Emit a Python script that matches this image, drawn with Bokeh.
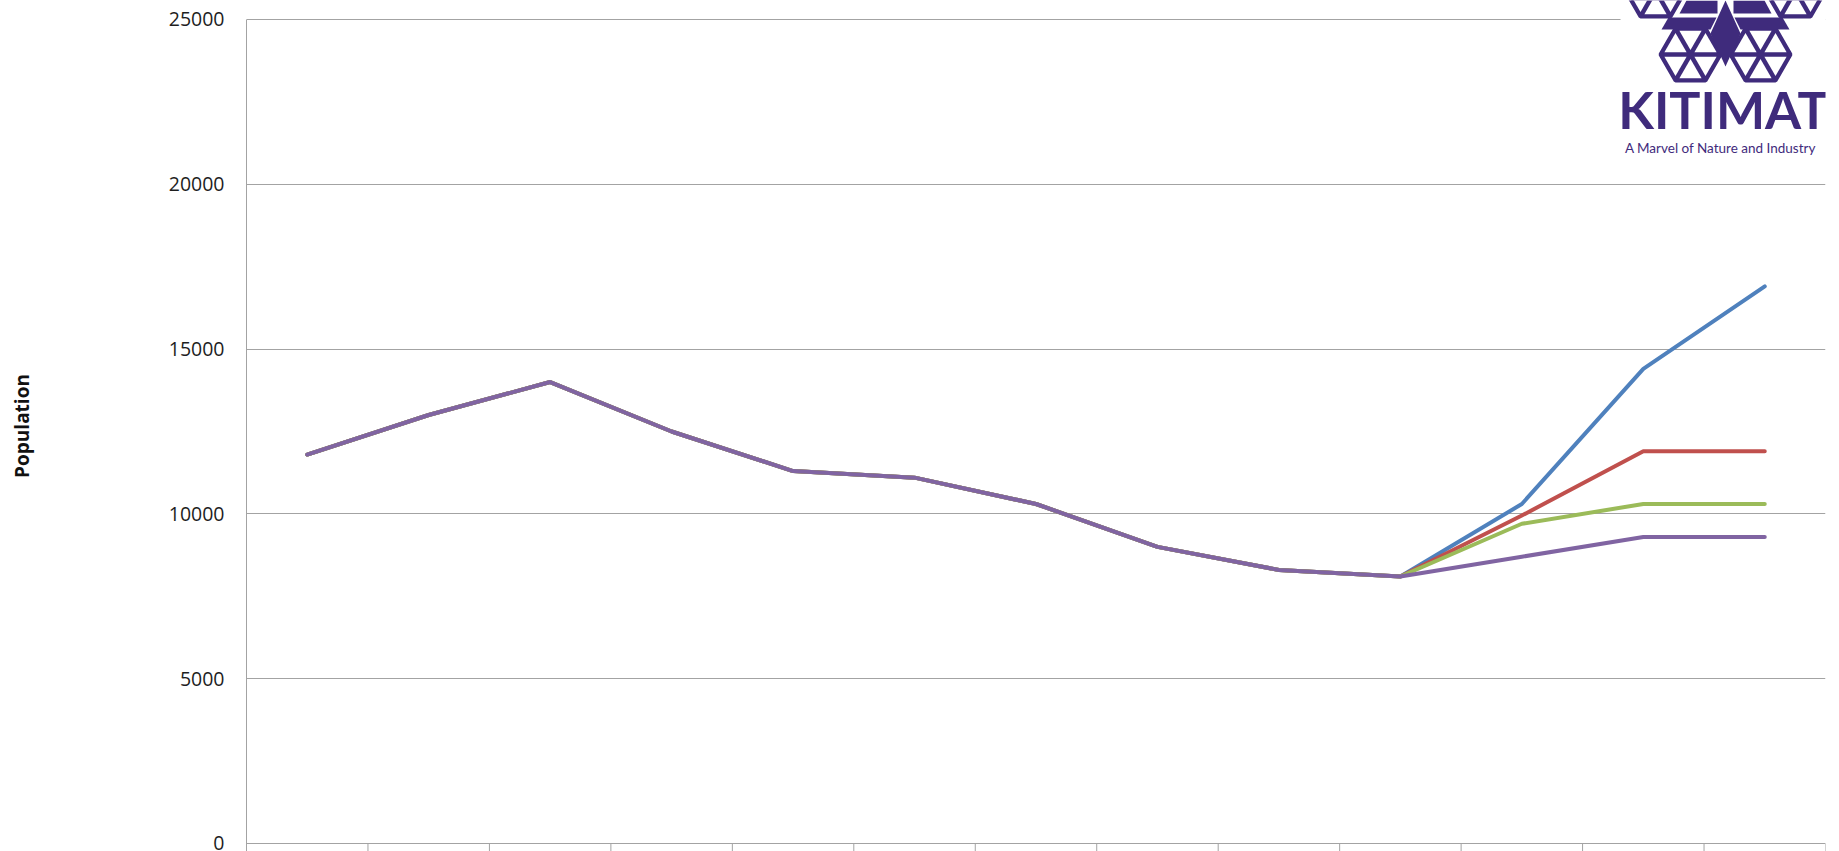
from bokeh.plotting import figure
from bokeh.models import Range1d, FixedTicker
from bokeh.core.properties import value
from bokeh.embed import file_html
from bokeh.resources import INLINE
import math

# ---------------- data ----------------
# 13 period categories (their labels are cut off in the source image)
categories = list(range(1, 14))
historical = [11800, 13000, 14000, 12500, 11300, 11100, 10300, 9000, 8300, 8100]
series_blue = historical + [10300, 14400, 16900]
series_red = historical + [9950, 11900, 11900]
series_green = historical + [9700, 10300, 10300]
series_purple = historical + [8700, 9300, 9300]
y_ticks = [0, 5000, 10000, 15000, 20000, 25000]

series = [
    (series_blue, "#4F81BD"),
    (series_red, "#C0504D"),
    (series_green, "#9BBB59"),
    (series_purple, "#8064A2"),
]

GRID = "#a3a3a3"
PURPLE = "#3f2b7c"

FRAME_W, FRAME_H = 1579, 851
LEFT = 246
n = len(categories)

p = figure(frame_width=FRAME_W, frame_height=FRAME_H,
           output_backend="svg", toolbar_location=None,
           x_range=Range1d(0.5, n + 0.5), y_range=Range1d(-243, 25576),
           x_axis_location=None,
           min_border_left=LEFT, min_border_right=6,
           min_border_top=0, min_border_bottom=0)
p.outline_line_color = None
p.background_fill_color = "white"
p.xgrid.visible = False
p.ygrid.ticker = FixedTicker(ticks=y_ticks)
p.ygrid.grid_line_color = GRID
p.ygrid.grid_line_width = 1

ax = p.yaxis[0]
ax.ticker = FixedTicker(ticks=y_ticks)
ax.bounds = (p.y_range.start, y_ticks[-1])
ax.axis_line_color = GRID
ax.major_tick_out = 0
ax.major_tick_in = 0
ax.minor_tick_out = 0
ax.minor_tick_in = 0
ax.major_label_standoff = 22
ax.major_label_text_font = "Open Sans"
ax.major_label_text_font_size = "19.5px"
ax.major_label_text_color = "#1e1e1e"
ax.axis_label = "Population"
ax.axis_label_text_font = "Open Sans"
ax.axis_label_text_font_style = "bold"
ax.axis_label_text_font_size = "19px"
ax.axis_label_text_color = "#111111"
ax.axis_label_standoff = 131

# category dividers below the baseline
bounds_x = [c - 0.5 for c in categories] + [categories[-1] + 0.5]
p.segment(x0=bounds_x, y0=[0] * len(bounds_x), x1=bounds_x,
          y1=[p.y_range.start] * len(bounds_x), line_color=GRID, line_width=1)

# series lines
for vals, col in series:
    p.line(categories, vals, line_color=col, line_width=4,
           line_join="round", line_cap="round")

# ---------------- logo (decoration, pixel space) ----------------
p.extra_x_ranges = {"px": Range1d(0, FRAME_W)}
p.extra_y_ranges = {"px": Range1d(0, FRAME_H)}
FX0, FY0 = LEFT, FRAME_H  # page position of frame bottom-left


def fx(x):
    return x - FX0


def fy(y):
    return FY0 - y


def pts(poly):
    return [fx(a) for a, b in poly], [fy(b) for a, b in poly]


# white backdrop hiding the top grid line
bx, by = pts([(1620, -2), (1840, -2), (1840, 160), (1620, 160)])
p.patch(bx, by, fill_color="white", line_color=None,
        x_range_name="px", y_range_name="px")

hex_list = [(1690, 54), (1760, 54), (1655, -10), (1795, -10)]
s = 30
hx, hy, tx, ty = [], [], [], []
for cx, cy in hex_list:
    verts = [(cx + s * math.cos(math.radians(a)), cy + s * math.sin(math.radians(a)))
             for a in range(0, 360, 60)]
    xs, ys = pts(verts)
    hx.append(xs)
    hy.append(ys)
    for i in range(6):
        a, b = verts[i], verts[(i + 1) % 6]
        gx, gy = (cx + a[0] + b[0]) / 3, (cy + a[1] + b[1]) / 3
        k = 0.74
        tri = [(gx + (q[0] - gx) * k, gy + (q[1] - gy) * k) for q in [(cx, cy), a, b]]
        xs, ys = pts(tri)
        tx.append(xs)
        ty.append(ys)
p.patches(hx, hy, fill_color=PURPLE, line_color=PURPLE, line_width=4,
          x_range_name="px", y_range_name="px")
p.patches(tx, ty, fill_color="white", line_color=None,
          x_range_name="px", y_range_name="px")

left_shapes = [
    [(1668, 17), (1716, 17), (1710, 29), (1661, 29)],
    [(1686, 0), (1717, 0), (1717, 13), (1679, 13)],
]
mx, my = [], []
for sh in left_shapes:
    xs, ys = pts(sh)
    mx.append(xs)
    my.append(ys)
    xs, ys = pts([(2 * 1725 - a, b) for a, b in sh])
    mx.append(xs)
    my.append(ys)
xs, ys = pts([(1725, 0), (1740, 33), (1725, 66), (1710, 33)])
mx.append(xs)
my.append(ys)
p.patches(mx, my, fill_color=PURPLE, line_color=None,
          x_range_name="px", y_range_name="px")

p.text(x=[fx(1723)], y=[fy(108)], text=["KITIMAT"],
       text_font=value("Lato"), text_font_size="52px", text_font_style="bold",
       text_color=PURPLE, text_align="center", text_baseline="middle",
       x_range_name="px", y_range_name="px")
p.text(x=[fx(1720)], y=[fy(147)], text=["A Marvel of Nature and Industry"],
       text_font=value("Lato"), text_font_size="13.5px", text_color=PURPLE,
       text_align="center", text_baseline="middle",
       x_range_name="px", y_range_name="px")

open("out.html", "w").write(file_html(p, INLINE))
